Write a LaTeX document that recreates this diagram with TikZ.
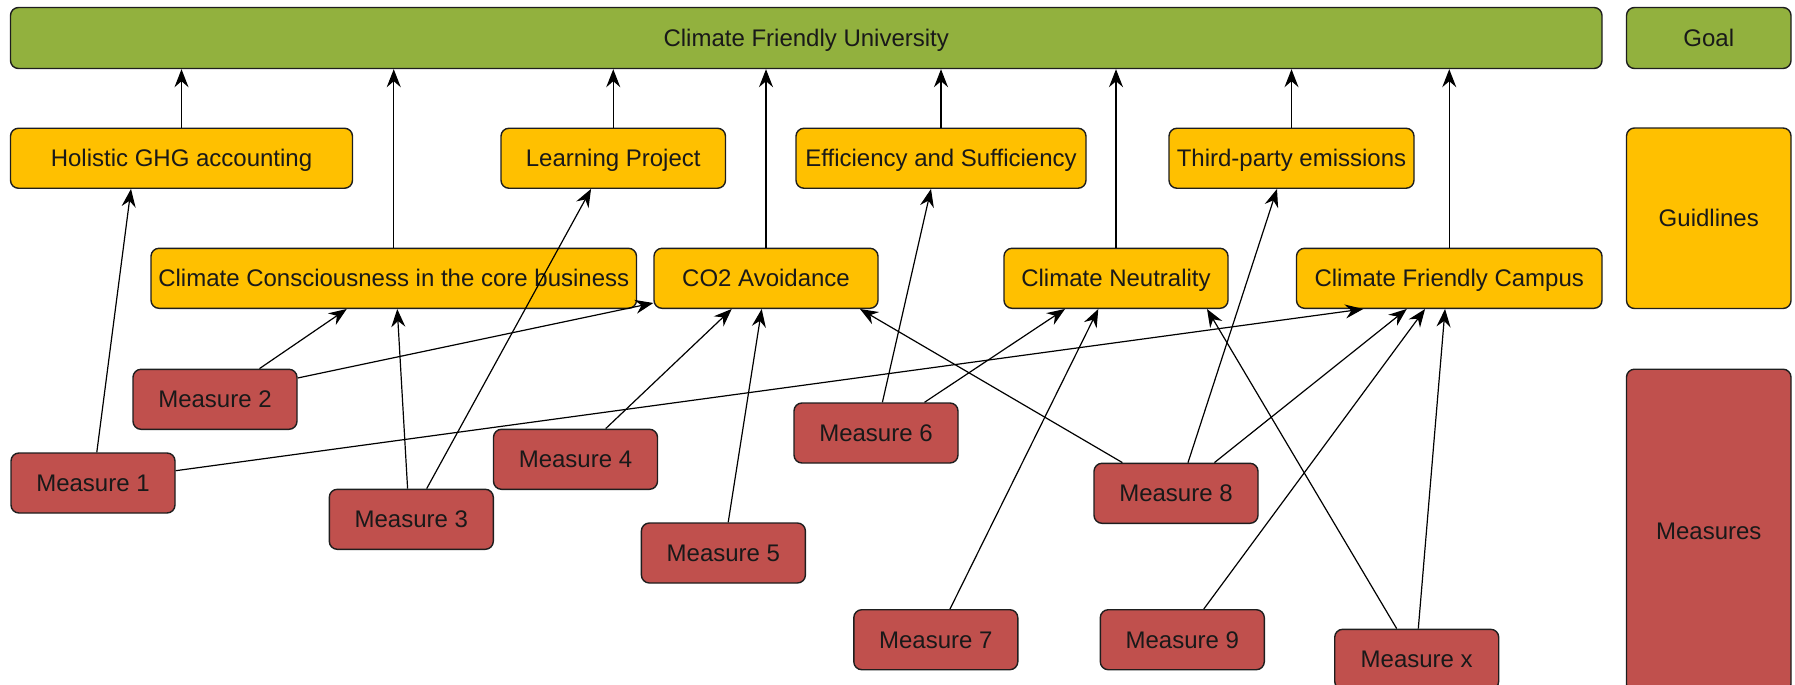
\documentclass[tikz,border=0pt]{standalone}
\usepackage{fontspec}
\setmainfont{Liberation Sans}
\usetikzlibrary{arrows.meta}
\definecolor{goalg}{HTML}{92B13E}
\definecolor{guidy}{HTML}{FFC000}
\definecolor{measr}{HTML}{C0504D}
\definecolor{edgec}{HTML}{1E1E1E}
\tikzset{
  box/.style={draw=edgec, line width=0.7pt, rounded corners=4pt, inner sep=0pt,
    font=\fontsize{12pt}{14pt}\selectfont, text=black!90, text height=9.5pt, text depth=1pt},
  goalbox/.style={box, fill=goalg, minimum height=30.5pt},
  guidbox/.style={box, fill=guidy, minimum height=30pt},
  measbox/.style={box, fill=measr, minimum width=82pt, minimum height=30pt},
  arr/.style={-{Stealth[length=9pt,width=7pt,inset=3pt]}, line width=0.6pt, black},
}
\begin{document}
\begin{tikzpicture}[x=0.5pt,y=-0.5pt]
\useasboundingbox (0,0) rectangle (1795,685);
\clip (0,0) rectangle (1795,685);
% goal
\node[goalbox, minimum width=795.75pt] (goal) at (806.25,38) {Climate Friendly University};
\node[goalbox, minimum width=82.25pt] (goallab) at (1708.75,38) {Goal};
% legend
\node[guidbox, minimum width=82.25pt, minimum height=90.25pt] (guid) at (1708.75,218.25) {Guidlines};
\node[box, fill=measr, minimum width=82.25pt, minimum height=161.5pt] (meas) at (1708.75,530.7) {Measures};
% guidelines row 1
\node[guidbox, minimum width=171pt] (hol) at (181.5,158.25) {Holistic GHG accounting};
\node[guidbox, minimum width=112.25pt] (learn) at (613.25,158.25) {Learning Project};
\node[guidbox, minimum width=145pt] (eff) at (941,158.25) {Efficiency and Sufficiency};
\node[guidbox, minimum width=122.5pt] (third) at (1291.5,158.25) {Third-party emissions};
% guidelines row 2
\node[guidbox, minimum width=242.75pt] (cc) at (393.75,278.3) {Climate Consciousness in the core business};
\node[guidbox, minimum width=112pt] (co2) at (766,278.3) {CO2 Avoidance};
\node[guidbox, minimum width=112pt] (cn) at (1116,278.3) {Climate Neutrality};
\node[guidbox, minimum width=152.75pt] (cfc) at (1449.25,278.3) {Climate Friendly Campus};
% measures
\node[measbox] (m1) at (93,483) {Measure 1};
\node[measbox] (m2) at (215,399.3) {Measure 2};
\node[measbox] (m3) at (411.3,519.3) {Measure 3};
\node[measbox] (m4) at (575.5,459.3) {Measure 4};
\node[measbox] (m5) at (723.4,553) {Measure 5};
\node[measbox] (m6) at (876,433) {Measure 6};
\node[measbox] (m7) at (935.8,639.7) {Measure 7};
\node[measbox] (m8) at (1176,493.3) {Measure 8};
\node[measbox] (m9) at (1182.3,639.7) {Measure 9};
\node[measbox] (mx) at (1416.7,659.3) {Measure x};
% guidelines to goal
\foreach \n in {hol,learn,eff,third,cc,co2,cn,cfc}
  \draw[arr] (\n.north) -- (\n.north |- goal.south);
% measures to guidelines
\draw[arr] ([xshift=1.9pt]m1.north) -- ([xshift=-25.25pt]hol.south);
\draw[arr] ([yshift=6.15pt]m1.east) -- ([xshift=-43pt]cfc.south);
\draw[arr] ([xshift=22.25pt]m2.north) -- ([xshift=-23.5pt]cc.south);
\draw[arr] ([yshift=10.65pt]m2.east) -- ([yshift=-12.35pt]co2.west);
\draw[arr] ([xshift=-1.85pt]m3.north) -- ([xshift=1.75pt]cc.south);
\draw[arr] ([xshift=7.7pt]m3.north) -- ([xshift=-11.1pt]learn.south);
\draw[arr] ([xshift=15.1pt]m4.north) -- ([xshift=-17.15pt]co2.south);
\draw[arr] ([xshift=2.4pt]m5.north) -- ([xshift=-2.15pt]co2.south);
\draw[arr] ([xshift=3.2pt]m6.north) -- ([xshift=-5pt]eff.south);
\draw[arr] ([xshift=24.25pt]m6.north) -- ([xshift=-25.5pt]cn.south);
\draw[arr] ([xshift=-26.8pt]m8.north) -- ([xshift=47pt]co2.south);
\draw[arr] ([xshift=7.1pt]m7.north) -- ([xshift=-8.85pt]cn.south);
\draw[arr] ([xshift=6pt]m8.north) -- ([xshift=-7.25pt]third.south);
\draw[arr] ([xshift=19.2pt]m8.north) -- ([xshift=-21.25pt]cfc.south);
\draw[arr] ([xshift=10.75pt]m9.north) -- ([xshift=-12.1pt]cfc.south);
\draw[arr] ([xshift=-10pt]mx.north) -- ([xshift=45.5pt]cn.south);
\draw[arr] ([xshift=0.8pt]mx.north) -- ([xshift=-2.1pt]cfc.south);
\end{tikzpicture}
\end{document}
